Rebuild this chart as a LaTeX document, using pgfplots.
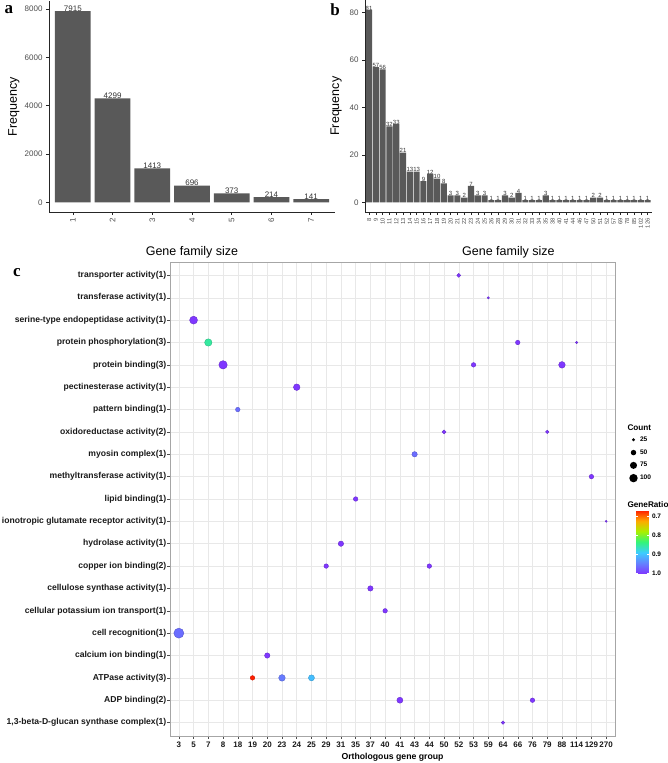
\documentclass[border=0pt]{standalone}
\usepackage{pgfplots}
\usepackage{pgfplotstable}
\pgfplotsset{compat=1.18}
\usepackage{fontspec}
\setmainfont{Liberation Sans}
\newfontfamily\serifb{Liberation Serif}
\definecolor{barc}{HTML}{595959}
\definecolor{tickc}{HTML}{4D4D4D}
\pgfkeys{/pgf/number format/assume math mode=true, /pgf/number format/1000 sep={}}

\pgfplotstableread{
x y count ratio
19 21 31 1.0
21 20 16 1.0
1 19 90 1.0
2 18 80 0.85
23 18 38 1.0
27 18 16 1.0
3 17 100 1.0
20 17 38 1.0
26 17 67 1.0
8 16 67 1.0
4 15 38 0.96
18 14 31 1.0
25 14 25 1.0
16 13 49 0.96
28 12 38 1.0
12 11 38 1.0
29 10 13 1.0
11 9 49 1.0
10 8 38 1.0
17 8 38 1.0
13 7 49 1.0
14 6 38 1.0
0 5 135 0.96
6 4 49 1.0
5 3 38 0.667
7 3 67 0.95
9 3 58 0.9
15 2 58 1.0
24 2 38 1.0
22 1 25 1.0
}\dotdata

\begin{document}
\begin{tikzpicture}[x=1pt,y=1pt]
\useasboundingbox (0,0) rectangle (668,763);

% ---------------- panel a
\begin{axis}[
 at={(49pt,551pt)}, anchor=south west, scale only axis, width=286pt, height=210.5pt,
 xmin=0.4, xmax=7.6, ymin=-396, ymax=8311,
 axis lines*=left, axis line style={black!85, line width=0.6pt},
 tick align=outside, major tick length=3pt, tick style={black!85, line width=0.5pt},
 xtick={1,...,7}, ytick={0,2000,4000,6000,8000},
 ticklabel style={font=\fontsize{8}{9}\selectfont, text=tickc},
 xticklabel style={rotate=90, anchor=east},
 scaled y ticks=false,
 xlabel={Gene family size}, ylabel={Frequency},
 label style={font=\fontsize{12.5}{14}\selectfont},
 xlabel style={at={(axis description cs:0.5,0)}, anchor=center, yshift=-40pt},
 ylabel style={at={(axis description cs:-0.1224,0.5)}, anchor=center},
 nodes near coords, nodes near coords style={font=\fontsize{8}{9}\selectfont, text=black!80, anchor=south, inner sep=0pt, yshift=-0.5pt},
]
\addplot[ybar, bar width=0.9, fill=barc, draw=none] coordinates {(1,7915) (2,4299) (3,1413) (4,696) (5,373) (6,214) (7,141)};
\end{axis}

% ---------------- panel b
\begin{axis}[
 at={(365pt,551pt)}, anchor=south west, scale only axis, width=286.7pt, height=211.6pt,
 xmin=0.4, xmax=42.6, ymin=-4.05, ymax=85.05,
 axis lines*=left, axis line style={black!85, line width=0.6pt},
 tick align=outside, major tick length=3pt, tick style={black!85, line width=0.5pt},
 xtick={1,...,42}, ytick={0,20,40,60,80},
 xticklabels={8,9,10,11,12,13,14,15,16,17,18,19,20,21,22,23,24,25,26,28,29,30,31,32,33,34,35,38,40,41,44,46,47,50,51,52,57,69,78,85,102,126},
 ticklabel style={font=\fontsize{8}{9}\selectfont, text=tickc},
 xticklabel style={rotate=90, anchor=east, font=\fontsize{5.8}{6}\selectfont},
 xlabel={Gene family size}, ylabel={Frequency},
 label style={font=\fontsize{12.5}{14}\selectfont},
 xlabel style={at={(axis description cs:0.5,0)}, anchor=center, yshift=-40pt},
 ylabel style={at={(axis description cs:-0.101,0.5)}, anchor=center},
 nodes near coords, nodes near coords style={font=\fontsize{6}{7}\selectfont, text=black!80, anchor=south, inner sep=0pt, yshift=-0.5pt},
]
\addplot[ybar, bar width=0.9, fill=barc, draw=none] coordinates {
(1,81) (2,57) (3,56) (4,32) (5,33) (6,21) (7,13) (8,13) (9,9) (10,12)
(11,10) (12,8) (13,3) (14,3) (15,2) (16,7) (17,3) (18,3) (19,1) (20,1)
(21,3) (22,2) (23,4) (24,1) (25,1) (26,1) (27,3) (28,1) (29,1) (30,1)
(31,1) (32,1) (33,1) (34,2) (35,2) (36,1) (37,1) (38,1) (39,1) (40,1)
(41,1) (42,1)};
\end{axis}

% ---------------- panel c
\begin{axis}[
 at={(170pt,27pt)}, anchor=south west, scale only axis, width=445pt, height=474pt,
 xmin=-0.6, xmax=29.6, ymin=0.4, ymax=21.6,
 xtick={0,...,29}, ytick={1,...,21},
 xticklabels={3,5,7,8,18,19,20,23,24,25,29,31,35,37,40,41,43,44,50,52,53,59,64,66,76,79,88,114,129,270},
 yticklabels={{1,3-beta-D-glucan synthase complex(1)},{ADP binding(2)},{ATPase activity(3)},{calcium ion binding(1)},{cell recognition(1)},{cellular potassium ion transport(1)},{cellulose synthase activity(1)},{copper ion binding(2)},{hydrolase activity(1)},{ionotropic glutamate receptor activity(1)},{lipid binding(1)},{methyltransferase activity(1)},{myosin complex(1)},{oxidoreductase activity(2)},{pattern binding(1)},{pectinesterase activity(1)},{protein binding(3)},{protein phosphorylation(3)},{serine-type endopeptidase activity(1)},{transferase activity(1)},{transporter activity(1)}},
 grid=major, grid style={color=black!9, line width=0.5pt},
 axis line style={black!35, line width=0.6pt},
 tick pos=left, tick align=outside, major tick length=2.5pt, tick style={black!70, line width=0.5pt},
 yticklabel style={font=\bfseries\fontsize{8.6}{10}\selectfont, text=black!90, inner sep=1pt},
 xticklabel style={font=\bfseries\fontsize{8}{9}\selectfont, text=black!90},
 xlabel={Orthologous gene group},
 xlabel style={font=\bfseries\fontsize{8.7}{10}\selectfont, at={(axis description cs:0.5,0)}, anchor=center, yshift=-21.7pt},
 point meta min=0.667, point meta max=1.0,
 colormap={gr}{rgb255=(255,30,0) rgb255=(255,170,0) rgb255=(170,240,0) rgb255=(50,245,120) rgb255=(60,205,255) rgb255=(100,130,255) rgb255=(127,55,255)},
 colorbar,
 colorbar style={at={(parent axis.north east)}, anchor=north west, xshift=12.7pt, yshift=-248.3pt,
   scale only axis, width=12.3pt, height=63.4pt, y dir=reverse,
   ytick={0.7,0.8,0.9,1.0}, axis line style={draw=none},
   major tick length=2pt, tick style={white, line width=0.6pt}, tick align=inside,
   yticklabel style={font=\bfseries\fontsize{6.5}{7}\selectfont, /pgf/number format/fixed, /pgf/number format/precision=1, /pgf/number format/fixed zerofill}},
 legend style={at={(1.031,0.636)}, anchor=north west, draw=none, fill=none, inner sep=0pt, row sep=2.7pt, font=\bfseries\fontsize{6.6}{7}\selectfont},
 legend cell align=left,
]
\addplot[scatter, only marks, mark=*, point meta=\thisrow{ratio},
 visualization depends on={0.5*sqrt(\thisrow{count})-0.8 \as \msize},
 scatter/@pre marker code/.append style={/tikz/mark size=\msize},
 forget plot] table[x=x,y=y] {\dotdata};
\addlegendimage{legend image code/.code={\path[draw=none,fill=none] (-4.5pt,-5pt) rectangle (4.5pt,5pt); \fill[black,draw=none] (0pt,0pt) circle (1.7pt);}}
\addlegendentry{25}
\addlegendimage{legend image code/.code={\path[draw=none,fill=none] (-4.5pt,-5pt) rectangle (4.5pt,5pt); \fill[black,draw=none] (0pt,0pt) circle (2.74pt);}}
\addlegendentry{50}
\addlegendimage{legend image code/.code={\path[draw=none,fill=none] (-4.5pt,-5pt) rectangle (4.5pt,5pt); \fill[black,draw=none] (0pt,0pt) circle (3.53pt);}}
\addlegendentry{75}
\addlegendimage{legend image code/.code={\path[draw=none,fill=none] (-4.5pt,-5pt) rectangle (4.5pt,5pt); \fill[black,draw=none] (0pt,0pt) circle (4.2pt);}}
\addlegendentry{100}
\end{axis}

\node[anchor=west, font=\bfseries\fontsize{8.2}{9}\selectfont, inner sep=0pt] at (627.3,335.3) {Count};
\node[anchor=west, font=\bfseries\fontsize{8.2}{9}\selectfont, inner sep=0pt] at (627.3,258.7) {GeneRatio};
\node[font=\serifb\bfseries\fontsize{17}{18}\selectfont, inner sep=0pt] at (9,753) {a};
\node[font=\serifb\bfseries\fontsize{17}{18}\selectfont, inner sep=0pt] at (335,753) {b};
\node[font=\serifb\bfseries\fontsize{17}{18}\selectfont, inner sep=0pt] at (17,490) {c};
\end{tikzpicture}
\end{document}
